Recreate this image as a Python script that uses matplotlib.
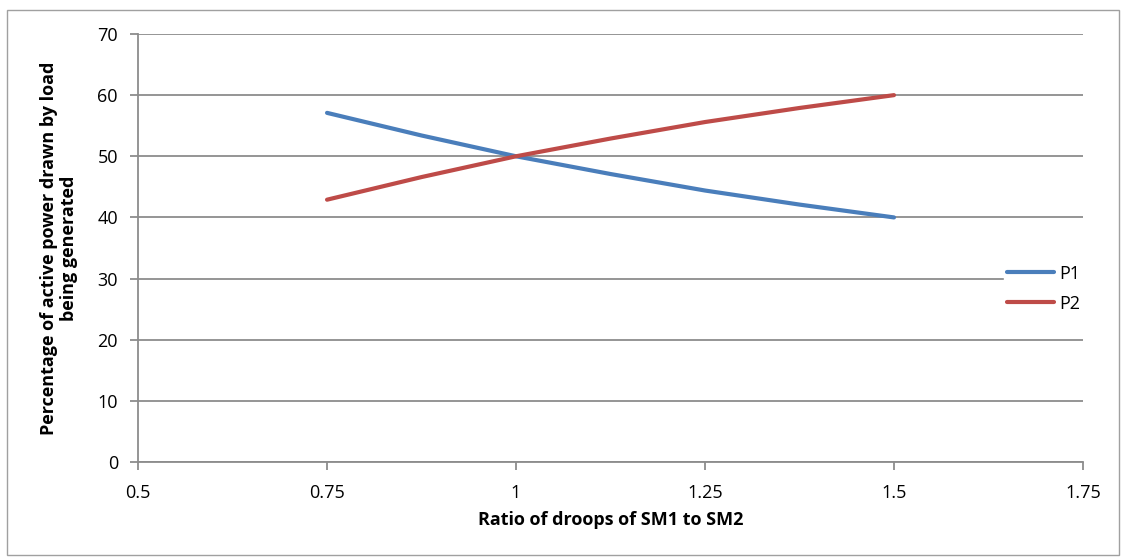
import matplotlib
matplotlib.use("Agg")
import matplotlib.pyplot as plt
from matplotlib.patches import Rectangle

# droop ratio SM1/SM2 and the share of load taken by each machine
ratio = [0.75, 0.875, 1.0, 1.125, 1.25, 1.375, 1.5]
p1 = [57.1, 53.4, 50.0, 47.1, 44.4, 42.1, 40.0]
p2 = [42.9, 46.6, 50.0, 52.9, 55.6, 57.9, 60.0]

x_ticks = [0.5, 0.75, 1, 1.25, 1.5, 1.75]
x_tick_labels = ["0.5", "0.75", "1", "1.25", "1.5", "1.75"]
y_ticks = [0, 10, 20, 30, 40, 50, 60, 70]

plt.rcParams["font.family"] = ["Open Sans", "DejaVu Sans"]
grid_col = "#8c8c8c"

fig = plt.figure(figsize=(11.26, 5.59), dpi=100)
ax = fig.add_axes([0.1226, 0.1735, 0.8392, 0.7657])

# chart-area border like the spreadsheet frame
fig.patches.append(Rectangle((7 / 1126, 1 - 555 / 559), 1112 / 1126, 545 / 559,
                             transform=fig.transFigure, fill=False,
                             edgecolor="#a0a0a0", linewidth=1.0))

ax.plot(ratio, p1, color="#4a7ebb", linewidth=3, label="P1", solid_capstyle="round")
ax.plot(ratio, p2, color="#be4b48", linewidth=3, label="P2", solid_capstyle="round")

ax.set_xlim(0.5, 1.75)
ax.set_ylim(0, 70)
ax.set_xticks(x_ticks)
ax.set_xticklabels(x_tick_labels)
ax.set_yticks(y_ticks)
ax.yaxis.grid(True, color=grid_col, linewidth=1.3)
ax.set_axisbelow(True)

for side in ["top", "right"]:
    ax.spines[side].set_visible(False)
for side in ["left", "bottom"]:
    ax.spines[side].set_color(grid_col)
    ax.spines[side].set_linewidth(1.3)

ax.tick_params(axis="both", colors=grid_col, labelcolor="black", labelsize=13,
               length=5.5, width=1.3, direction="out")
ax.tick_params(axis="x", pad=10)
ax.tick_params(axis="y", pad=9)

ax.set_xlabel("Ratio of droops of SM1 to SM2", fontsize=13, fontweight="bold", labelpad=7)
ax.set_ylabel("Percentage of active power drawn by load\nbeing generated",
              fontsize=13, fontweight="bold", labelpad=14, linespacing=1.1)

leg = ax.legend(loc="center left", bbox_to_anchor=(0.916, 0.405), frameon=True,
                fontsize=13, handlelength=2.6, handletextpad=0.3, labelspacing=0.65,
                borderpad=0.2, borderaxespad=0)
leg.get_frame().set_edgecolor("white")
leg.get_frame().set_facecolor("white")
leg.get_frame().set_alpha(1)
leg.get_frame().set_boxstyle("square", pad=0)

fig.savefig("out.png", dpi=100)
